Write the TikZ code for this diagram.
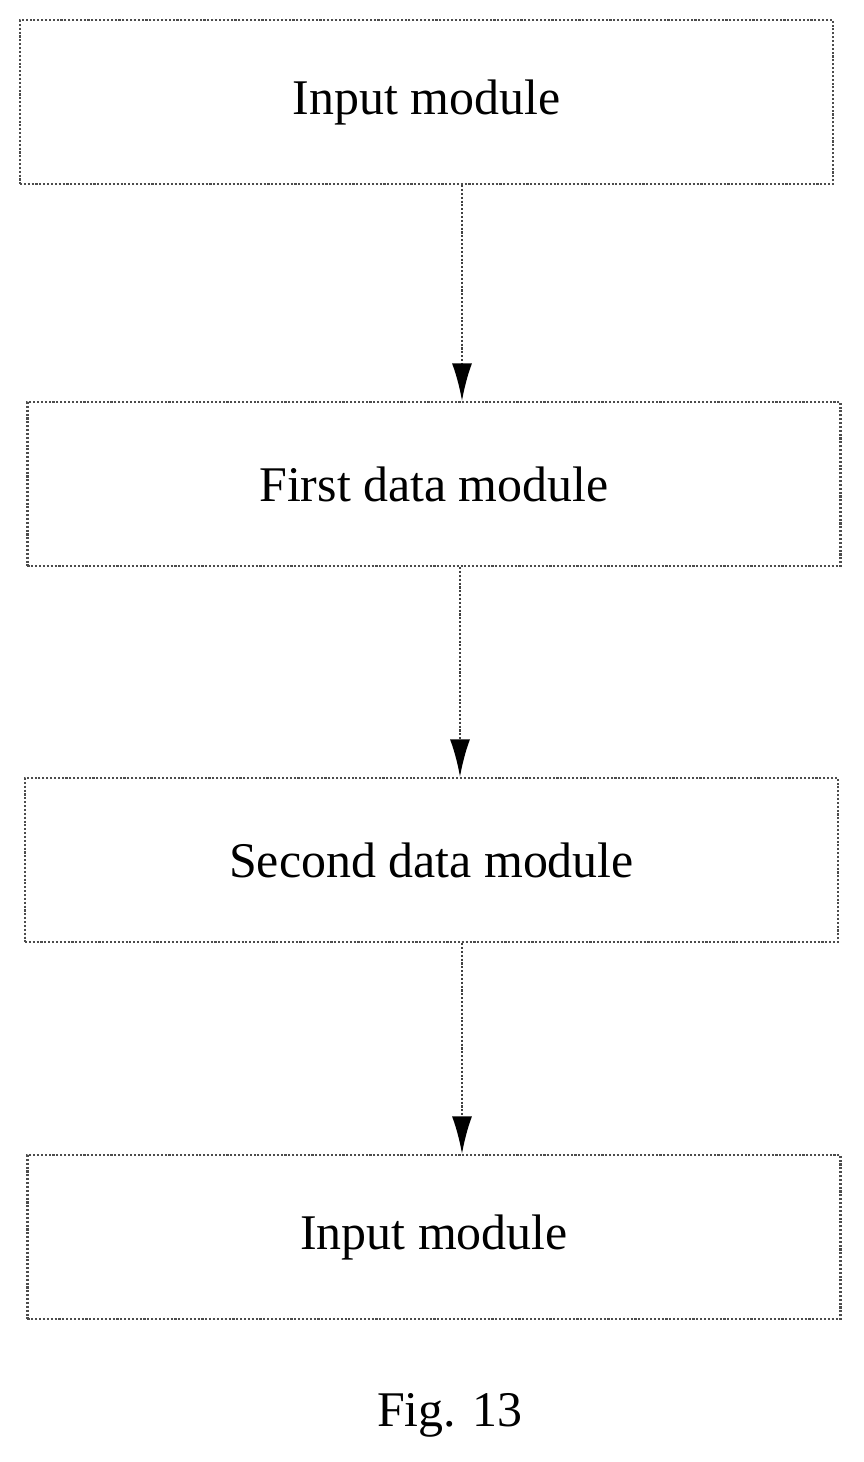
\documentclass[tikz,border=0pt]{standalone}
\usepackage{fontspec}
\setmainfont{Liberation Serif}
\usetikzlibrary{arrows.meta}
\tikzset{
  module/.style={rectangle, draw=black!70, densely dotted, line width=1.2pt, minimum height=3.28cm, minimum width=16.26cm, font=\fontsize{28.4}{34}\selectfont},
  flow/.style={draw=black!75, densely dotted, line width=1.2pt, -{Latex[length=0.75cm, width=0.4cm, black]}}
}
\begin{document}
\begin{tikzpicture}
      \useasboundingbox (0,0) rectangle (17.26,-29.24);

      % modules
      \node[module] (in1) at (8.53, -2.04) {Input module};
      \node[module] (first) at (8.68, -9.68) {First data module};
      \node[module] (second) at (8.63, -17.20) {Second data module};
      \node[module] (in2) at (8.68, -24.74) {Input module};

      % arrows
      \draw[flow] ([xshift=0.71cm]in1.south) -- ([xshift=0.71cm]in1.south |- first.north);
      \draw[flow] ([xshift=0.52cm]first.south) -- ([xshift=0.52cm]first.south |- second.north);
      \draw[flow] ([xshift=0.61cm]second.south) -- ([xshift=0.61cm]second.south |- in2.north);

      % caption
      \node[font=\fontsize{28.4}{34}\selectfont] (cap) at (9.0, -28.3) {Fig. 13};
    \end{tikzpicture}
\end{document}
